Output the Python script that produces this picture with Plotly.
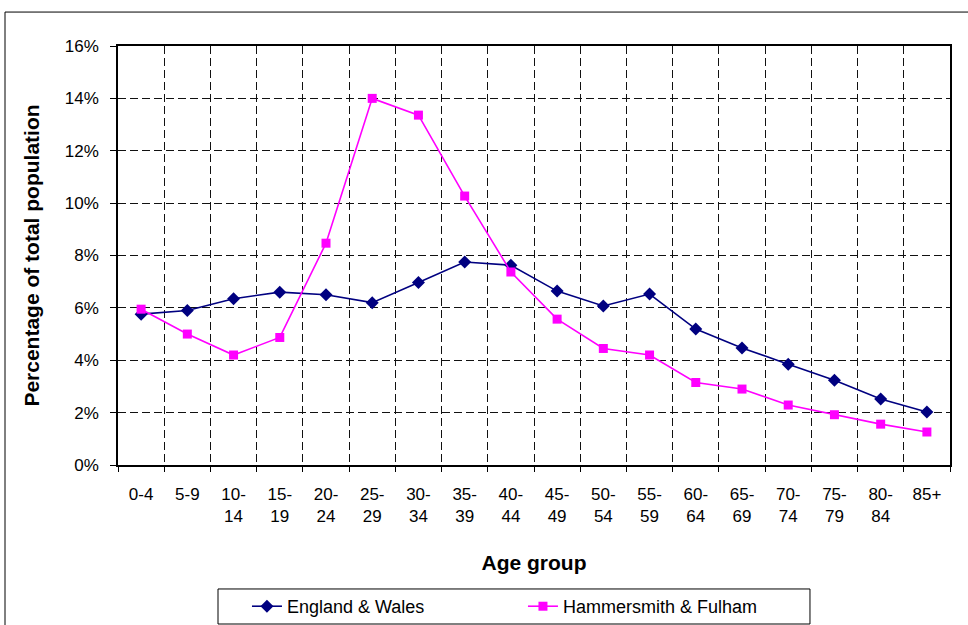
import plotly.graph_objects as go

age_groups = ["0-4", "5-9", "10-<br>14", "15-<br>19", "20-<br>24", "25-<br>29", "30-<br>34",
              "35-<br>39", "40-<br>44", "45-<br>49", "50-<br>54", "55-<br>59", "60-<br>64",
              "65-<br>69", "70-<br>74", "75-<br>79", "80-<br>84", "85+"]

england_wales = [5.76, 5.9, 6.35, 6.6, 6.5, 6.2, 6.97, 7.75, 7.63, 6.64, 6.07, 6.53,
                 5.19, 4.47, 3.85, 3.24, 2.52, 2.02]
hammersmith_fulham = [5.95, 5.0, 4.2, 4.87, 8.47, 14.0, 13.36, 10.27, 7.37, 5.57, 4.45, 4.2,
                      3.15, 2.9, 2.29, 1.92, 1.56, 1.26]

y_ticks = [0, 2, 4, 6, 8, 10, 12, 14, 16]
y_tick_labels = ["0%", "2%", "4%", "6%", "8%", "10%", "12%", "14%", "16%"]

FONT = "Liberation Sans, Arial, sans-serif"

fig = go.Figure()
fig.add_trace(go.Scatter(
    x=age_groups, y=england_wales, name="England & Wales", mode="lines+markers",
    line=dict(color="#000080", width=1.6),
    marker=dict(symbol="diamond", size=10, color="#000080"),
))
fig.add_trace(go.Scatter(
    x=age_groups, y=hammersmith_fulham, name="Hammersmith & Fulham", mode="lines+markers",
    line=dict(color="#FF00FF", width=1.6),
    marker=dict(symbol="square", size=9, color="#FF00FF"),
))

fig.update_layout(
    width=968, height=625,
    margin=dict(l=118, r=18, t=46, b=160, autoexpand=False),
    paper_bgcolor="white", plot_bgcolor="white",
    font=dict(family=FONT, color="black", size=17),
    showlegend=True,
    legend=dict(
        orientation="h", x=0.1550, xanchor="left", y=-0.2936, yanchor="top",
        borderwidth=0, bgcolor="rgba(0,0,0,0)", font=dict(size=18, family=FONT),
        entrywidth=231, entrywidthmode="pixels", traceorder="normal",
    ),
    xaxis=dict(
        type="category", tickson="boundaries", range=[-0.5, 17.5], autorange=False,
        showgrid=True, gridcolor="#111111", gridwidth=1, griddash="8px,4px",
        showline=True, linecolor="black", linewidth=1.5, mirror=True,
        ticks="outside", ticklen=5, tickcolor="black",
        ticklabelstandoff=13,
        tickfont=dict(size=17),
        title=dict(text="<b>Age group</b>", font=dict(size=21), standoff=30),
    ),
    yaxis=dict(
        range=[0, 16], autorange=False, tickvals=y_ticks, ticktext=y_tick_labels,
        showgrid=True, gridcolor="#111111", gridwidth=1, griddash="8px,4px",
        showline=True, linecolor="black", linewidth=1.5, mirror=True,
        ticks="outside", ticklen=6, tickcolor="black",
        ticklabelstandoff=8, zeroline=False,
        tickfont=dict(size=17),
        title=dict(text="<b>Percentage of total population</b>", font=dict(size=21), standoff=19),
    ),
    shapes=[
        dict(type="rect", xref="paper", yref="paper",
             x0=-0.1358, x1=1.1, y0=-0.6, y1=1.081,
             line=dict(color="black", width=1), fillcolor="rgba(0,0,0,0)", layer="below"),
        dict(type="rect", xref="paper", yref="paper",
             x0=0.1202, x1=0.8317, y0=-0.3795, y1=-0.2959,
             line=dict(color="black", width=1), fillcolor="rgba(0,0,0,0)", layer="below"),
    ],
)

fig.write_html("out.html", config={"displayModeBar": False},
               post_script="document.body.style.margin='0';")
